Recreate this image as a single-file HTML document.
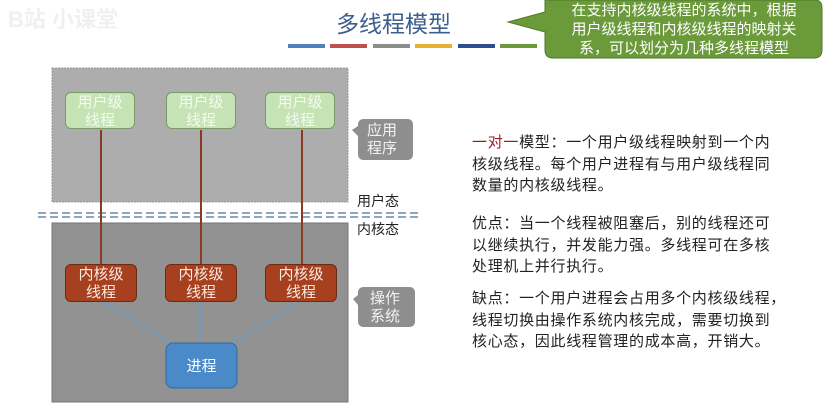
<!DOCTYPE html><html><head><meta charset="utf-8"><style>
body{margin:0;width:835px;height:413px;background:#fff;position:relative;overflow:hidden;font-family:"Liberation Sans","Noto Sans CJK SC",sans-serif}
.a{position:absolute}
.u{position:absolute;width:70px;height:37px;background:#c5e3b5;border:1px solid #7a9a6a;border-radius:6px;color:#f4fbf0;font-size:15px;line-height:18px;text-align:center;box-sizing:border-box;padding-top:1px}
.k{position:absolute;width:72px;height:38px;background:#a6401f;border:1px solid #6b2a14;border-radius:6px;color:#fbe9e0;font-size:15px;line-height:18px;text-align:center;box-sizing:border-box;padding-top:1px}
.t{position:absolute;left:472px;font-size:15px;letter-spacing:0.7px;line-height:21.5px;color:#222;white-space:nowrap}
.bar{position:absolute;top:44px;height:4px;width:37px}
</style></head><body>
<div class="a" style="left:8px;top:2px;font-size:22px;color:#f0f0f0;font-weight:bold">B站 小课堂</div>
<div class="a" style="left:336px;top:5px;font-size:23px;color:#3c5f8e">多线程模型</div>
<div class="bar" style="left:288px;background:#4f81bd"></div>
<div class="bar" style="left:330px;background:#c0504d"></div>
<div class="bar" style="left:373px;background:#8c8c8c"></div>
<div class="bar" style="left:415px;background:#e6b030"></div>
<div class="bar" style="left:458px;background:#2c4f8c"></div>
<div class="bar" style="left:500px;background:#6a9a3a"></div>
<svg class="a" style="left:0;top:0" width="835" height="413">
<path d="M552 0 H815 Q822 0 822 8 V50 Q822 58 814 58 H553 Q545 58 545 50 V32 L508 22 L545 12 V0Z" fill="#6a9a3a" stroke="#4f7a2a"/>
<rect x="52" y="68" width="296" height="134" fill="#adadad" stroke="#999" stroke-dasharray="2 1"/>
<rect x="52" y="223" width="296" height="179" fill="#929292" stroke="#777"/>
<line x1="38" y1="213" x2="418" y2="213" stroke="#6a8aa8" stroke-width="1.5" stroke-dasharray="8 4"/>
<line x1="38" y1="217" x2="418" y2="217" stroke="#6a8aa8" stroke-width="1.5" stroke-dasharray="8 4"/>
<g stroke="#8a3a20" stroke-width="2"><line x1="101" y1="130" x2="101" y2="264"/><line x1="201" y1="130" x2="201" y2="264"/><line x1="302" y1="130" x2="302" y2="264"/></g>
<g stroke="#6a9ac8" stroke-width="1.5"><line x1="101" y1="301" x2="175" y2="345"/><line x1="201" y1="301" x2="201" y2="345"/><line x1="302" y1="301" x2="228" y2="345"/></g>
<rect x="166" y="343" width="71" height="45" rx="7" fill="#4a8ac8" stroke="#2f6aa0"/>
<path d="M364 119 H407 Q413 119 413 125 V154 Q413 160 407 160 H364 Q358 160 358 154 V136 L352 130 L358 126 V125 Q358 119 364 119Z" fill="#8e8e8e"/>
<path d="M364 287 H409 Q415 287 415 293 V321 Q415 327 409 327 H364 Q358 327 358 321 V305 L353 299 L358 295 V293 Q358 287 364 287Z" fill="#8e8e8e"/>
</svg>
<div class="a" style="left:546px;top:1px;width:276px;text-align:center;color:#fff;font-size:15px;line-height:19px">在支持内核级线程的系统中，根据<br>用户级线程和内核级线程的映射关<br>系，可以划分为几种多线程模型</div>
<div class="u" style="left:65px;top:92px">用户级<br>线程</div>
<div class="u" style="left:166px;top:92px">用户级<br>线程</div>
<div class="u" style="left:265px;top:92px">用户级<br>线程</div>
<div class="k" style="left:65px;top:264px">内核级<br>线程</div>
<div class="k" style="left:165px;top:264px">内核级<br>线程</div>
<div class="k" style="left:265px;top:264px">内核级<br>线程</div>
<div class="a" style="left:166px;top:355px;width:71px;text-align:center;color:#fff;font-size:15px">进程</div>
<div class="a" style="left:367px;top:122px;font-size:15px;line-height:18px;color:#f2f2f2">应用<br>程序</div>
<div class="a" style="left:370px;top:290px;font-size:15px;line-height:18px;color:#f2f2f2">操作<br>系统</div>
<div class="a" style="left:357px;top:191px;font-size:14px;color:#222">用户态</div>
<div class="a" style="left:357px;top:219px;font-size:14px;color:#222">内核态</div>
<div class="t" style="top:132px"><span style="color:#9a1a2a">一对一</span>模型：一个用户级线程映射到一个内<br>核级线程。每个用户进程有与用户级线程同<br>数量的内核级线程。</div>
<div class="t" style="top:213px">优点：当一个线程被阻塞后，别的线程还可<br>以继续执行，并发能力强。多线程可在多核<br>处理机上并行执行。</div>
<div class="t" style="top:288px">缺点：一个用户进程会占用多个内核级线程，<br>线程切换由操作系统内核完成，需要切换到<br>核心态，因此线程管理的成本高，开销大。</div>
</body></html>
